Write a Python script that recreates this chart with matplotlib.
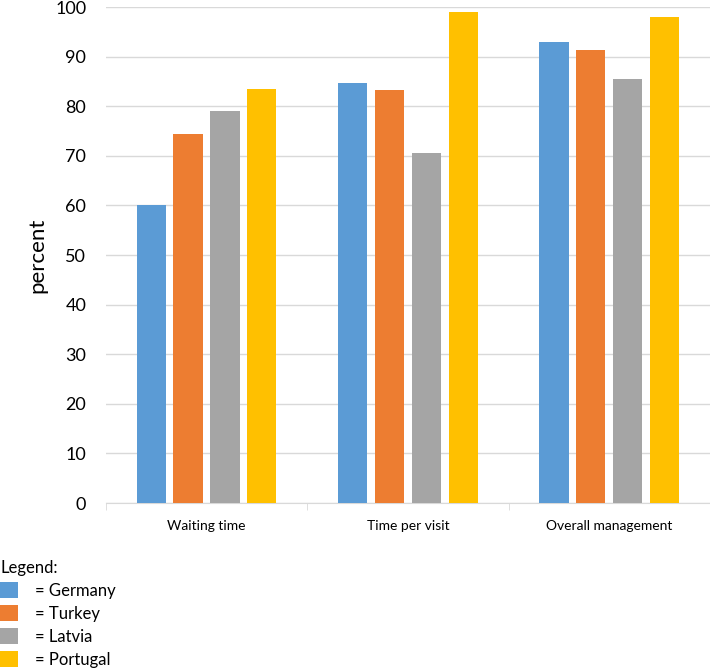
import numpy as np
import matplotlib.pyplot as plt
from matplotlib.patches import Patch

plt.rcParams['font.family'] = ['Lato', 'DejaVu Sans']

categories = ["Waiting time", "Time per visit", "Overall management"]
countries = ["Germany", "Turkey", "Latvia", "Portugal"]
germany = [60.0, 84.7, 93.0]
turkey = [74.5, 83.3, 91.3]
latvia = [79.0, 70.6, 85.4]
portugal = [83.5, 99.0, 98.0]
colors = ["#5b9bd5", "#ed7d31", "#a5a5a5", "#ffc000"]

series = [germany, turkey, latvia, portugal]

fig = plt.figure(figsize=(7.1, 6.69), dpi=100)
ax = fig.add_axes([0.149, 0.248, 0.851, 0.7415])

x = np.arange(len(categories)) + 0.5
width = 0.145
step = 0.183
for i, (vals, c) in enumerate(zip(series, colors)):
    ax.bar(x + (i - 1.5) * step, vals, width, color=c, zorder=3)

ax.set_xlim(0, len(categories))
ax.set_ylim(0, 100)
ax.set_yticks(np.arange(0, 101, 10))
ax.yaxis.grid(True, color="#d9d9d9", linewidth=1, zorder=0)
ax.tick_params(axis="y", length=0, pad=14, labelsize=13)

ax.set_xticks(x)
ax.set_xticklabels(categories, fontsize=10)
ax.set_xticks(np.arange(len(categories) + 1), minor=True)
ax.tick_params(axis="x", which="major", length=0, pad=12)
ax.tick_params(axis="x", which="minor", length=5, color="#d9d9d9")

for s in ["top", "right", "left"]:
    ax.spines[s].set_visible(False)
ax.spines["bottom"].set_color("#d9d9d9")

ax.set_ylabel("percent", fontsize=16, labelpad=6)

handles = [Patch(facecolor=c) for c in colors]
labels = ["= " + n for n in countries]
leg = fig.legend(handles, labels, loc="upper left", bbox_to_anchor=(0.0, 0.163),
                 frameon=False, fontsize=12, title="Legend:", title_fontsize=12,
                 alignment="left", handlelength=1.1, handleheight=1.1,
                 handletextpad=1.0, labelspacing=0.38, borderpad=0, borderaxespad=0)

fig.savefig("out.png", dpi=100)
